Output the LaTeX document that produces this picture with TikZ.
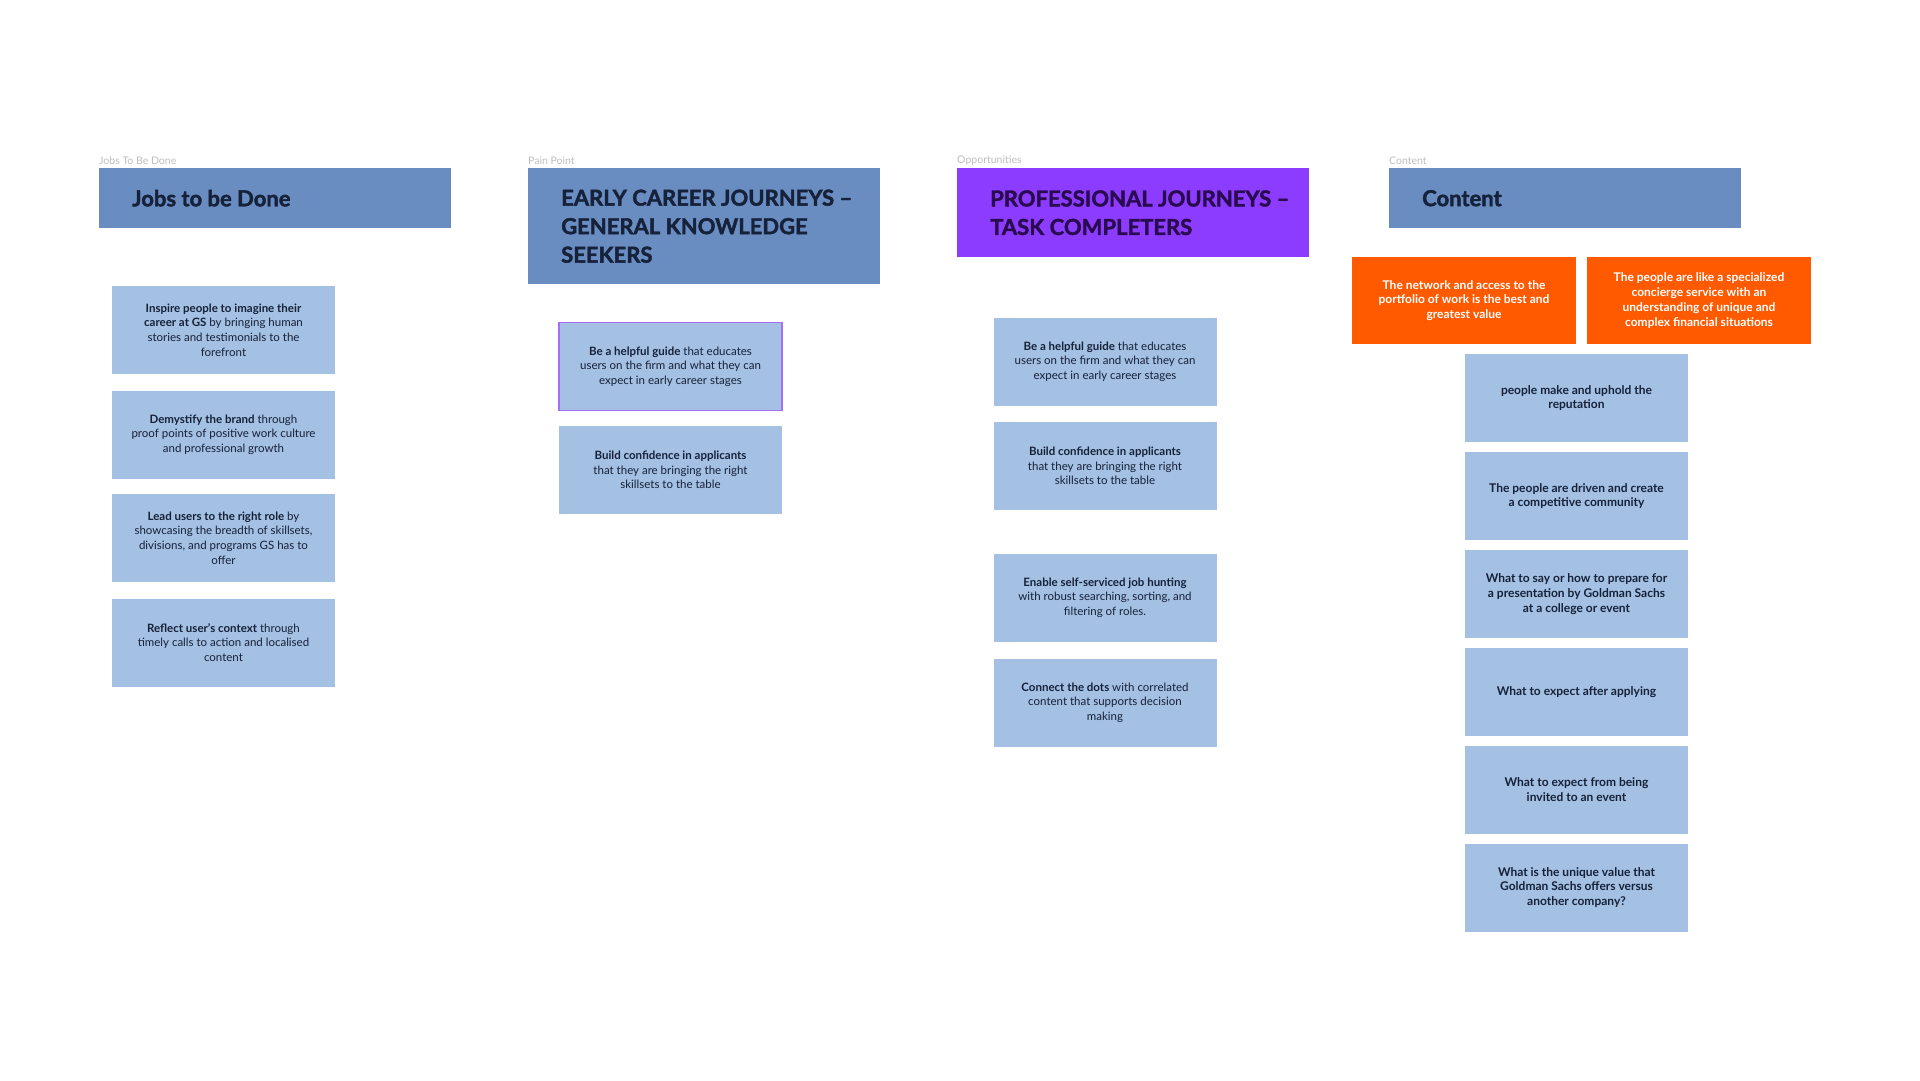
\documentclass[tikz,border=0pt]{standalone}
\usepackage{fontspec}
\setmainfont{Lato}
\newfontfamily\hdrfont[Ligatures=TeX,BoldFeatures={FakeBold=1.8}]{Lato}
\definecolor{hdrblue}{HTML}{6A8DC1}
\definecolor{cardblue}{HTML}{A4C0E2}
\definecolor{hdrpurple}{HTML}{8C3CFF}
\definecolor{ornred}{HTML}{FF5A00}
\definecolor{inkblue}{HTML}{16213A}
\definecolor{inkpurple}{HTML}{2A0B4F}
\definecolor{taggray}{HTML}{BDBDBD}
\definecolor{hotedge}{HTML}{A66EF5}
\begin{document}
\begin{tikzpicture}[x=1pt,y=-1pt,
	hdrbox/.style={fill=hdrblue, anchor=north west, minimum width=352pt, inner sep=0pt},
	hdrtext/.style={anchor=west, align=left, inner sep=0pt, text=inkblue, font=\hdrfont\fontsize{22}{28.5}\selectfont\bfseries},
	card/.style={fill=cardblue, text=inkblue, minimum width=223pt, minimum height=88pt, align=center, inner sep=0pt, font=\fontsize{11.5}{14.7}\selectfont},
	boldcard/.style={card, font=\fontsize{12}{14.7}\selectfont\bfseries},
	hotcard/.style={card, draw=hotedge, line width=1.6pt},
	ornbox/.style={fill=ornred, text=white, minimum width=224pt, minimum height=87pt, align=center, inner sep=0pt, font=\fontsize{12}{14.7}\selectfont\bfseries},
	tag/.style={anchor=west, inner sep=0pt, text=taggray, font=\fontsize{10.5}{11}\selectfont}]
	\useasboundingbox (0,0) rectangle (1920,1080);
	
	% column tags
	\node[tag] (tjobs) at (99,161) {Jobs To Be Done};
	\node[tag] (tpain) at (528,161) {Pain Point};
	\node[tag] (topp) at (957,161) {Opportunities};
	\node[tag] (tcont) at (1389,161) {Content};
	
	% headers
	\node[hdrbox, minimum height=60pt] (hjobs) at (99,168) {};
	\node[hdrtext] (hjobstxt) at ([xshift=33pt]hjobs.west) {Jobs to be Done};
	\node[hdrbox, minimum height=116pt] (hearly) at (528,168) {};
	\node[hdrtext] (hearlytxt) at ([xshift=33pt]hearly.west) {EARLY CAREER JOURNEYS –\\GENERAL KNOWLEDGE\\SEEKERS};
	\node[hdrbox, fill=hdrpurple, minimum height=89pt] (hprof) at (957,168) {};
	\node[hdrtext, text=inkpurple] (hproftxt) at ([xshift=33pt]hprof.west) {PROFESSIONAL JOURNEYS –\\TASK COMPLETERS};
	\node[hdrbox, minimum height=60pt] (hcont) at (1389,168) {};
	\node[hdrtext] (hconttxt) at ([xshift=33pt]hcont.west) {Content};
	
	% jobs to be done
	\node[card] (jinspire) at (223.5,330) {\textbf{Inspire people to imagine their}\\\textbf{career at GS} by bringing human\\stories and testimonials to the\\forefront};
	\node[card] (jbrand) at (223.5,434.5) {\textbf{Demystify the brand} through\\proof points of positive work culture\\and professional growth};
	\node[card] (jrole) at (223.5,538) {\textbf{Lead users to the right role} by\\showcasing the breadth of skillsets,\\divisions, and programs GS has to\\offer};
	\node[card] (jcontext) at (223.5,642.5) {\textbf{Reflect user’s context} through\\timely calls to action and localised\\content};
	
	% early career
	\node[hotcard] (eguide) at (670.5,366.5) {\textbf{Be a helpful guide} that educates\\users on the firm and what they can\\expect in early career stages};
	\node[card] (econf) at (670.5,470) {\textbf{Build confidence in applicants}\\that they are bringing the right\\skillsets to the table};
	
	% professional
	\node[card] (pguide) at (1105,361.5) {\textbf{Be a helpful guide} that educates\\users on the firm and what they can\\expect in early career stages};
	\node[card] (pconf) at (1105,466) {\textbf{Build confidence in applicants}\\that they are bringing the right\\skillsets to the table};
	\node[card] (phunt) at (1105,597.5) {\textbf{Enable self-serviced job hunting}\\with robust searching, sorting, and\\filtering of roles.};
	\node[card] (pdots) at (1105,702.5) {\textbf{Connect the dots} with correlated\\content that supports decision\\making};
	
	% content
	\node[ornbox] (cnet) at (1464,300.5) {The network and access to the\\portfolio of work is the best and\\greatest value};
	\node[ornbox] (cpeople) at (1699,300.5) {The people are like a specialized\\concierge service with an\\understanding of unique and\\complex financial situations};
	\node[boldcard] (crep) at (1576.5,398) {people make and uphold the\\reputation};
	\node[boldcard] (cdriven) at (1576.5,496) {The people are driven and create\\a competitive community};
	\node[boldcard] (csay) at (1576.5,594) {What to say or how to prepare for\\a presentation by Goldman Sachs\\at a college or event};
	\node[boldcard] (capply) at (1576.5,692) {What to expect after applying};
	\node[boldcard] (cevent) at (1576.5,789.5) {What to expect from being\\invited to an event};
	\node[boldcard] (cvalue) at (1576.5,887.5) {What is the unique value that\\Goldman Sachs offers versus\\another company?};
\end{tikzpicture}
\end{document}
